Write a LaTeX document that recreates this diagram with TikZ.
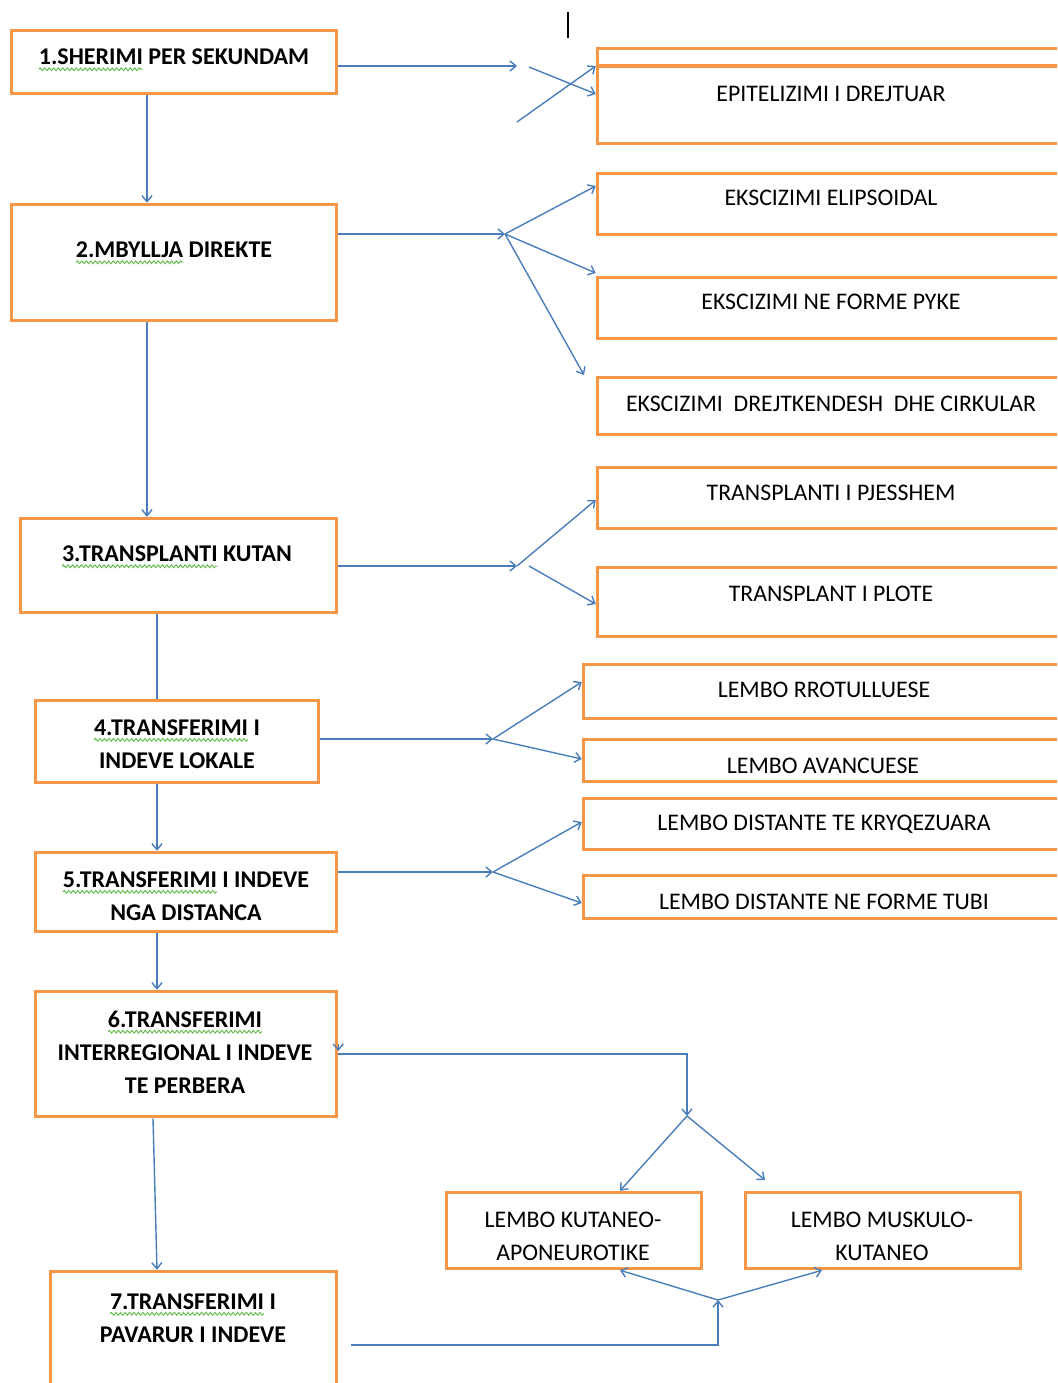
\documentclass[tikz,border=0pt]{standalone}
\usepackage{fontspec}
\setmainfont{Carlito}
\usetikzlibrary{arrows.meta,decorations.pathmorphing}
\definecolor{boxor}{HTML}{F79646}
\definecolor{lnblue}{HTML}{4A7EBB}
\definecolor{sqg}{HTML}{5DBB46}
\newcommand\sqw[1]{\tikz[baseline=(sqwd.base)]{\node[inner sep=0pt, outer sep=0pt](sqwd){#1};\draw[overlay, sqg, line width=0.9pt, decorate, decoration={snake, amplitude=1.4pt, segment length=4.5pt}] ([yshift=-4.5pt]sqwd.base west) -- ([yshift=-4.5pt]sqwd.base east);}}
\tikzset{
  box/.style={draw=boxor, line width=3.5pt, inner sep=0pt, fill=none},
  ltxt/.style={font=\fontsize{24}{33}\selectfont\bfseries, align=center, inner sep=0pt},
  rtxt/.style={font=\fontsize{23.8}{33}\selectfont, align=center, inner sep=0pt},
  conn/.style={draw=lnblue, line width=1.4pt, -{Straight Barb[length=6pt,width=10pt]}},
  plain/.style={draw=lnblue, line width=1.4pt},
}
\begin{document}
\begin{tikzpicture}[x=1pt,y=-1pt]
\clip (0,0) rectangle (1057,1383);
\fill[white] (0,0) rectangle (1057,1383);
% left boxes
\node[box, minimum width=325pt, minimum height=63pt] (b1) at (174,62) {};
\node[box, minimum width=325pt, minimum height=116pt] (b2) at (174,262.5) {};
\node[box, minimum width=316pt, minimum height=94pt] (b3) at (178.5,565.5) {};
\node[box, minimum width=283pt, minimum height=82pt] (b4) at (177,741.5) {};
\node[box, minimum width=301pt, minimum height=79pt] (b5) at (186,892) {};
\node[box, minimum width=301pt, minimum height=125pt] (b6) at (186,1054) {};
\node[box, minimum width=286pt, minimum height=127pt] (b7) at (193.5,1335) {};
% right boxes
\node[box, minimum width=476pt, minimum height=95pt] (r1) at (835.5,96) {};
\draw[boxor, line width=3.5pt] (r1.west |- 0,66) -- (r1.east |- 0,66);
\node[box, minimum width=476pt, minimum height=61pt] (r2) at (835.5,204) {};
\node[box, minimum width=476pt, minimum height=61pt] (r3) at (835.5,308) {};
\node[box, minimum width=476pt, minimum height=57pt] (r4) at (835.5,406) {};
\node[box, minimum width=476pt, minimum height=61pt] (r5) at (835.5,498) {};
\node[box, minimum width=476pt, minimum height=69pt] (r6) at (835.5,602) {};
\node[box, minimum width=490pt, minimum height=54pt] (r7) at (828.5,691.5) {};
\node[box, minimum width=490pt, minimum height=42pt] (r8) at (828.5,760.5) {};
\node[box, minimum width=490pt, minimum height=51pt] (r9) at (828.5,824) {};
\node[box, minimum width=490pt, minimum height=43pt] (r10) at (828.5,897) {};
% bottom boxes
\node[box, minimum width=255pt, minimum height=76pt] (bb1) at (574,1230.5) {};
\node[box, minimum width=275pt, minimum height=76pt] (bb2) at (883,1230.5) {};
% texts
\node[ltxt] (t1) at (174,57) {\sqw{1.SHERIMI} PER SEKUNDAM};
\node[ltxt] (t2) at (174,250) {\sqw{2.MBYLLJA} DIREKTE};
\node[ltxt] (t3) at (177,554) {\sqw{3.TRANSPLANTI} KUTAN};
\node[ltxt] (t4) at (177,744) {\sqw{4.TRANSFERIMI} I\\INDEVE LOKALE};
\node[ltxt] (t5) at (186,896) {\sqw{5.TRANSFERIMI} I INDEVE\\NGA DISTANCA};
\node[ltxt] (t6) at (185,1052) {\sqw{6.TRANSFERIMI}\\INTERREGIONAL I INDEVE\\TE PERBERA};
\node[ltxt] (t7) at (193,1318) {\sqw{7.TRANSFERIMI} I\\PAVARUR I INDEVE};
\node[rtxt] (s1) at (831,94) {EPITELIZIMI I DREJTUAR};
\node[rtxt] (s2) at (831,198) {EKSCIZIMI ELIPSOIDAL};
\node[rtxt] (s3) at (831,302) {EKSCIZIMI NE FORME PYKE};
\node[rtxt] (s4) at (831,404) {EKSCIZIMI\ \ DREJTKENDESH\ \ DHE CIRKULAR};
\node[rtxt] (s5) at (831,493) {TRANSPLANTI I PJESSHEM};
\node[rtxt] (s6) at (831,594) {TRANSPLANT I PLOTE};
\node[rtxt] (s7) at (824,690) {LEMBO RROTULLUESE};
\node[rtxt] (s8) at (823,766) {LEMBO AVANCUESE};
\node[rtxt] (s9) at (824,824) {LEMBO DISTANTE TE KRYQEZUARA};
\node[rtxt] (s10) at (824,902) {LEMBO DISTANTE NE FORME TUBI};
\node[rtxt] (u1) at (573,1236) {LEMBO KUTANEO-\\APONEUROTIKE};
\node[rtxt] (u2) at (882,1236) {LEMBO MUSKULO-\\KUTANEO};
% cursor mark
\draw[black, line width=2.5pt] (568,12) -- (568,38);
% junction coordinates
\coordinate (j1) at (517,66);
\coordinate (c1) at (529,67);
\coordinate (c2) at (517,122);
\coordinate (j2) at (505,234);
\coordinate (e3) at (584,375);
\coordinate (j3) at (517,566);
\coordinate (c3) at (529,566);
\coordinate (j4) at (493,739);
\coordinate (j5) at (493,872);
\coordinate (j6) at (687,1116);
\coordinate (e6) at (765,1180);
\coordinate (j7) at (718,1300);
% connectors
\draw[conn] (b1.east |- j1) -- (j1);
\draw[conn] (c1) -- ([yshift=2pt]r1.west);
\draw[conn] (c2) -- ([yshift=30pt]r1.west);
\draw[conn] ([xshift=-27pt]b1.south) -- ([xshift=-27pt]b2.north);
\draw[conn] (b2.east |- j2) -- (j2);
\draw[conn] (j2) -- ([yshift=18pt]r2.west);
\draw[conn] (j2) -- ([yshift=35pt]r3.west);
\draw[conn] (j2) -- (e3);
\draw[conn] ([xshift=-27pt]b2.south) -- ([xshift=-31.5pt]b3.north);
\draw[conn] (b3.east |- j3) -- (j3);
\draw[conn] (j3) -- ([yshift=-2pt]r5.west);
\draw[conn] (c3) -- ([yshift=-2pt]r6.west);
\draw[plain] ([xshift=-21.5pt]b3.south) -- ([xshift=-20pt]b4.north);
\draw[conn] (b4.east |- j4) -- (j4);
\draw[conn] (j4) -- ([yshift=9.5pt]r7.west);
\draw[conn] (j4) -- ([yshift=1.5pt]r8.west);
\draw[conn] ([xshift=-20pt]b4.south) -- ([xshift=-29pt]b5.north);
\draw[conn] (b5.east |- j5) -- (j5);
\draw[conn] (j5) -- ([yshift=2pt]r9.west);
\draw[conn] (j5) -- ([yshift=-6pt]r10.west);
\draw[conn] ([xshift=-29pt]b5.south) -- ([xshift=-29pt]b6.north);
\draw[conn] ([xshift=-33pt]b6.south) -- ([xshift=-36.5pt]b7.north);
\draw[conn] (b6.east) -| (j6);
\draw[conn] ([yshift=10pt]b6.east) -- ([yshift=3pt]b6.east);
\draw[conn] (j6) -- ([xshift=46pt]bb1.north);
\draw[conn] (j6) -- (e6);
\draw[conn] ([xshift=13pt,yshift=-10pt]b7.east) -| (j7);
\draw[conn] (j7) -- ([xshift=46pt]bb1.south);
\draw[conn] (j7) -- ([xshift=-61pt]bb2.south);
\end{tikzpicture}
\end{document}
